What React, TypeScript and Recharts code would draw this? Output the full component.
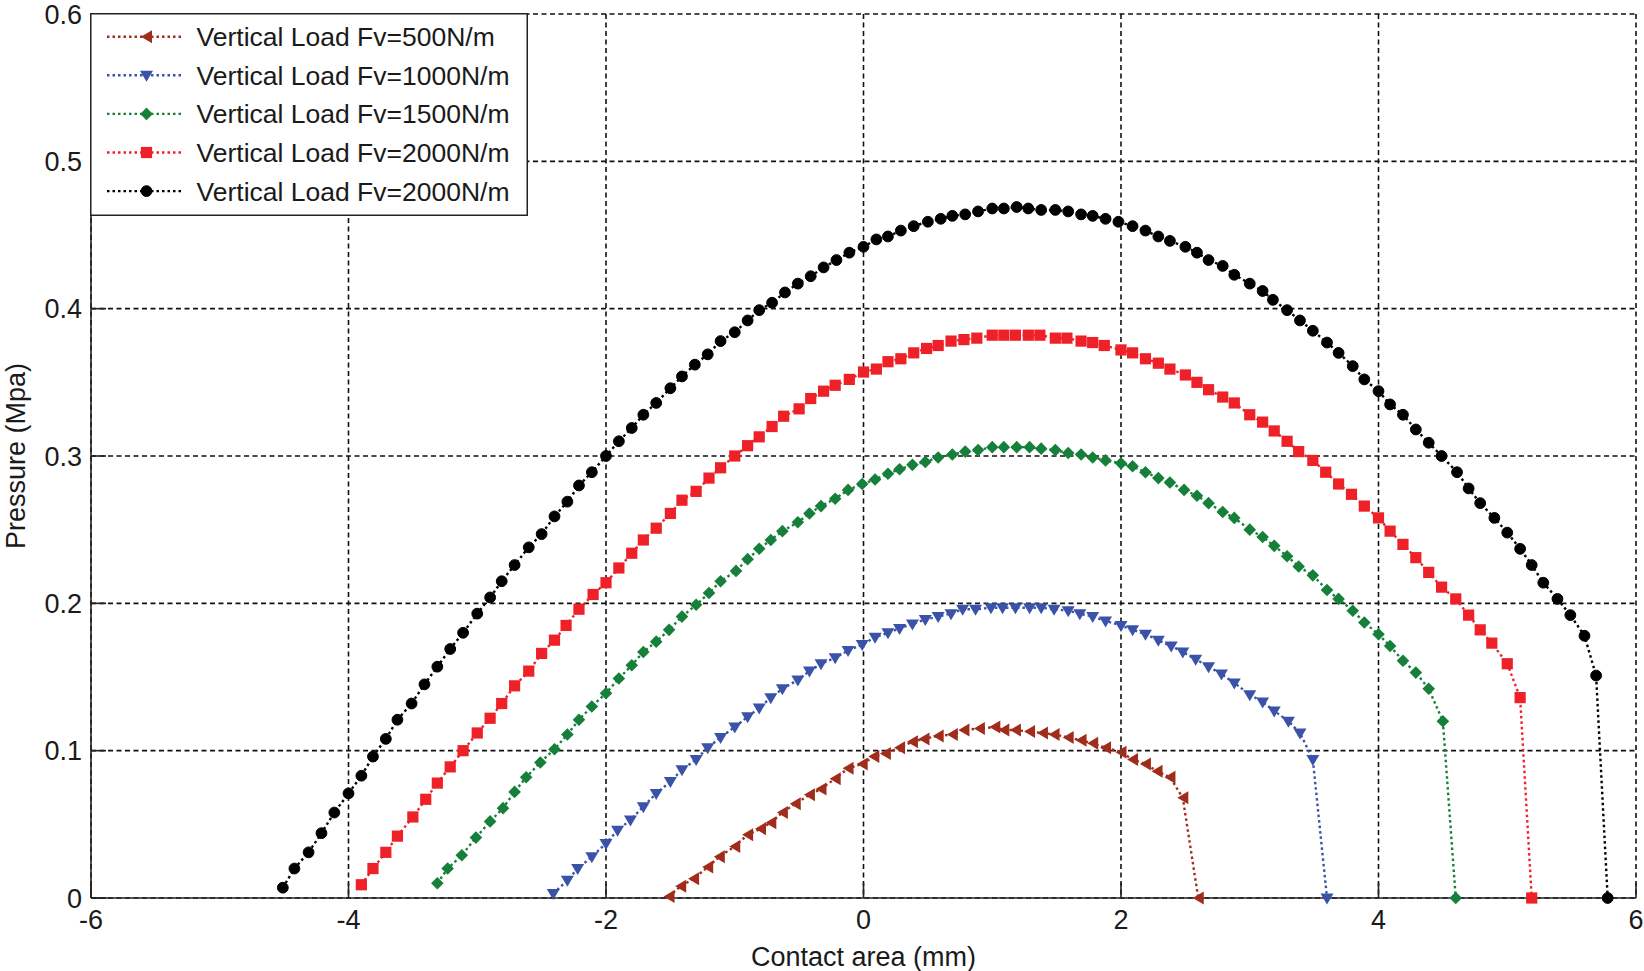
import { CartesianGrid, Label, Line, LineChart, XAxis, YAxis } from "recharts";

// Axis ticks
const xTicks = [-6, -4, -2, 0, 2, 4, 6];
const yTicks = [0, 0.1, 0.2, 0.3, 0.4, 0.5, 0.6];

// Vertical Load Fv=500N/m
const fv500X = [
  -1.51, -1.42, -1.32, -1.21, -1.12, -1.0, -0.9, -0.8, -0.72, -0.63, -0.53, -0.42, -0.33, -0.22,
  -0.12, -0.01, 0.08, 0.17, 0.28, 0.38, 0.47, 0.58, 0.69, 0.78, 0.9, 1.02, 1.09, 1.18, 1.29, 1.39,
  1.48, 1.59, 1.69, 1.78, 1.88, 2.0, 2.09, 2.19, 2.28, 2.38, 2.48, 2.6,
];
const fv500Y = [
  0.001, 0.008, 0.013, 0.021, 0.028, 0.035, 0.043, 0.047, 0.051, 0.058, 0.064, 0.07, 0.074, 0.081,
  0.088, 0.091, 0.096, 0.098, 0.102, 0.106, 0.108, 0.11, 0.111, 0.114, 0.115, 0.116, 0.114, 0.114,
  0.113, 0.112, 0.111, 0.109, 0.107, 0.105, 0.102, 0.099, 0.094, 0.091, 0.086, 0.082, 0.068, 0.0,
];

// Vertical Load Fv=1000N/m
const fv1000X = [
  -2.41, -2.3, -2.22, -2.11, -2.0, -1.91, -1.81, -1.71, -1.61, -1.5, -1.41, -1.3, -1.21, -1.11, -1.0,
  -0.9, -0.81, -0.72, -0.63, -0.51, -0.42, -0.33, -0.22, -0.12, -0.01, 0.09, 0.19, 0.28, 0.38, 0.48,
  0.58, 0.68, 0.77, 0.87, 0.99, 1.08, 1.18, 1.29, 1.38, 1.48, 1.59, 1.68, 1.78, 1.88, 2.0, 2.09, 2.19,
  2.29, 2.39, 2.48, 2.58, 2.68, 2.78, 2.88, 3.0, 3.1, 3.19, 3.3, 3.39, 3.49, 3.6,
];
const fv1000Y = [
  0.003, 0.012, 0.02, 0.028, 0.037, 0.046, 0.053, 0.062, 0.071, 0.079, 0.087, 0.094, 0.102, 0.109,
  0.116, 0.123, 0.129, 0.136, 0.142, 0.148, 0.154, 0.159, 0.163, 0.168, 0.172, 0.177, 0.18, 0.183,
  0.186, 0.189, 0.191, 0.193, 0.196, 0.196, 0.197, 0.197, 0.197, 0.197, 0.197, 0.196, 0.195, 0.193,
  0.191, 0.188, 0.185, 0.182, 0.179, 0.175, 0.171, 0.167, 0.162, 0.157, 0.152, 0.146, 0.138, 0.133,
  0.127, 0.12, 0.112, 0.094, 0.0,
];

// Vertical Load Fv=1500N/m
const fv1500X = [
  -3.31, -3.23, -3.12, -3.01, -2.9, -2.8, -2.71, -2.62, -2.51, -2.4, -2.3, -2.21, -2.11, -2.0, -1.9,
  -1.8, -1.71, -1.61, -1.51, -1.41, -1.3, -1.2, -1.11, -0.99, -0.9, -0.81, -0.72, -0.63, -0.51, -0.42,
  -0.33, -0.22, -0.12, -0.01, 0.09, 0.19, 0.28, 0.38, 0.48, 0.58, 0.69, 0.79, 0.89, 1.0, 1.09, 1.19,
  1.29, 1.38, 1.49, 1.59, 1.69, 1.78, 1.88, 2.0, 2.09, 2.19, 2.29, 2.38, 2.49, 2.59, 2.68, 2.79, 2.88,
  3.0, 3.1, 3.19, 3.29, 3.38, 3.49, 3.6, 3.69, 3.8, 3.89, 4.0, 4.09, 4.19, 4.29, 4.39, 4.5, 4.6,
];
const fv1500Y = [
  0.01, 0.02, 0.029, 0.041, 0.052, 0.061, 0.072, 0.082, 0.092, 0.101, 0.111, 0.121, 0.13, 0.139,
  0.149, 0.158, 0.167, 0.174, 0.182, 0.191, 0.199, 0.207, 0.215, 0.222, 0.23, 0.237, 0.243, 0.249,
  0.255, 0.261, 0.266, 0.271, 0.277, 0.281, 0.284, 0.288, 0.291, 0.294, 0.296, 0.299, 0.301, 0.303,
  0.304, 0.306, 0.306, 0.306, 0.306, 0.305, 0.304, 0.302, 0.301, 0.299, 0.297, 0.295, 0.293, 0.289,
  0.285, 0.282, 0.277, 0.273, 0.268, 0.262, 0.258, 0.25, 0.245, 0.239, 0.232, 0.225, 0.219, 0.209,
  0.203, 0.195, 0.187, 0.179, 0.171, 0.161, 0.153, 0.142, 0.12, 0.0,
];

// Vertical Load Fv=2000N/m (red)
const fv2000aX = [
  -3.9, -3.81, -3.71, -3.62, -3.5, -3.4, -3.31, -3.21, -3.11, -3.0, -2.9, -2.81, -2.71, -2.6, -2.5,
  -2.4, -2.31, -2.21, -2.1, -2.0, -1.9, -1.8, -1.71, -1.61, -1.5, -1.41, -1.3, -1.2, -1.11, -1.0, -0.9,
  -0.81, -0.71, -0.62, -0.5, -0.41, -0.31, -0.22, -0.11, 0.0, 0.1, 0.19, 0.29, 0.39, 0.49, 0.58, 0.68,
  0.78, 0.88, 1.0, 1.09, 1.18, 1.28, 1.37, 1.49, 1.58, 1.69, 1.78, 1.87, 2.0, 2.09, 2.19, 2.29, 2.38,
  2.5, 2.59, 2.68, 2.79, 2.88, 3.0, 3.1, 3.19, 3.29, 3.38, 3.49, 3.59, 3.69, 3.79, 3.89, 4.0, 4.09,
  4.19, 4.29, 4.39, 4.49, 4.6, 4.7, 4.79, 4.88, 5.0, 5.1, 5.19,
];
const fv2000aY = [
  0.009, 0.02, 0.031, 0.042, 0.055, 0.067, 0.078, 0.089, 0.1, 0.112, 0.122, 0.132, 0.144, 0.154,
  0.166, 0.175, 0.185, 0.196, 0.206, 0.214, 0.224, 0.234, 0.243, 0.251, 0.261, 0.27, 0.276, 0.285,
  0.292, 0.3, 0.307, 0.313, 0.32, 0.327, 0.332, 0.339, 0.344, 0.348, 0.352, 0.357, 0.359, 0.364,
  0.366, 0.37, 0.373, 0.375, 0.378, 0.379, 0.38, 0.382, 0.382, 0.382, 0.382, 0.382, 0.38, 0.38,
  0.378, 0.377, 0.375, 0.372, 0.37, 0.366, 0.363, 0.359, 0.355, 0.35, 0.345, 0.34, 0.336, 0.328,
  0.323, 0.317, 0.31, 0.303, 0.297, 0.289, 0.281, 0.274, 0.266, 0.258, 0.249, 0.24, 0.231, 0.221,
  0.211, 0.203, 0.192, 0.182, 0.173, 0.159, 0.136, 0.0,
];

// Vertical Load Fv=2000N/m (black)
const fv2000bX = [
  -4.51, -4.42, -4.31, -4.21, -4.11, -4.0, -3.9, -3.81, -3.71, -3.62, -3.51, -3.41, -3.31, -3.21,
  -3.11, -3.0, -2.9, -2.81, -2.71, -2.6, -2.5, -2.4, -2.3, -2.21, -2.11, -2.0, -1.9, -1.8, -1.71,
  -1.61, -1.5, -1.41, -1.31, -1.21, -1.11, -1.0, -0.9, -0.81, -0.71, -0.61, -0.51, -0.41, -0.31, -0.21,
  -0.11, 0.0, 0.1, 0.19, 0.29, 0.39, 0.5, 0.6, 0.69, 0.79, 0.89, 1.0, 1.09, 1.19, 1.28, 1.38, 1.49,
  1.59, 1.69, 1.78, 1.88, 1.98, 2.09, 2.19, 2.29, 2.38, 2.5, 2.59, 2.68, 2.79, 2.88, 3.0, 3.1, 3.18,
  3.29, 3.39, 3.49, 3.6, 3.69, 3.8, 3.89, 4.0, 4.09, 4.19, 4.29, 4.39, 4.49, 4.61, 4.7, 4.79, 4.9, 5.0,
  5.1, 5.19, 5.28, 5.39, 5.49, 5.6, 5.69, 5.78,
];
const fv2000bY = [
  0.007, 0.02, 0.031, 0.044, 0.058, 0.071, 0.083, 0.096, 0.108, 0.121, 0.132, 0.145, 0.157, 0.169,
  0.18, 0.193, 0.204, 0.215, 0.226, 0.238, 0.247, 0.259, 0.269, 0.28, 0.289, 0.3, 0.31, 0.319, 0.328,
  0.336, 0.346, 0.354, 0.362, 0.369, 0.378, 0.384, 0.392, 0.399, 0.404, 0.411, 0.417, 0.422, 0.428,
  0.433, 0.438, 0.442, 0.447, 0.449, 0.453, 0.456, 0.459, 0.461, 0.463, 0.464, 0.466, 0.468, 0.468,
  0.469, 0.468, 0.467, 0.467, 0.466, 0.464, 0.463, 0.461, 0.459, 0.456, 0.453, 0.449, 0.446, 0.442,
  0.438, 0.433, 0.429, 0.423, 0.417, 0.412, 0.406, 0.399, 0.392, 0.385, 0.377, 0.37, 0.361, 0.352,
  0.344, 0.335, 0.328, 0.318, 0.309, 0.3, 0.289, 0.278, 0.268, 0.258, 0.248, 0.237, 0.226, 0.214,
  0.203, 0.192, 0.178, 0.151, 0.0,
];

type Shape = "left" | "down" | "diamond" | "square" | "circle";

const seriesNames = [
  "Vertical Load Fv=500N/m",
  "Vertical Load Fv=1000N/m",
  "Vertical Load Fv=1500N/m",
  "Vertical Load Fv=2000N/m",
  "Vertical Load Fv=2000N/m",
];
const seriesX = [fv500X, fv1000X, fv1500X, fv2000aX, fv2000bX];
const seriesY = [fv500Y, fv1000Y, fv1500Y, fv2000aY, fv2000bY];
const seriesColors = ["#a02c1c", "#3a52a8", "#16803a", "#ee2129", "#000000"];
const seriesShapes: Shape[] = ["left", "down", "diamond", "square", "circle"];

const series = seriesNames.map((name, i) => ({
  name,
  color: seriesColors[i],
  shape: seriesShapes[i],
  data: seriesX[i].map((x, j) => ({ x, y: seriesY[i][j] })),
}));

const FONT = "'Liberation Sans', Arial, Helvetica, sans-serif";
const AXIS = "#222";

function Marker({ shape, cx, cy, color }: { shape: Shape; cx: number; cy: number; color: string }) {
  switch (shape) {
    case "circle":
      return <circle cx={cx} cy={cy} r={5.4} fill={color} stroke={color} strokeWidth={1} />;
    case "square":
      return <rect x={cx - 5.6} y={cy - 5.6} width={11.2} height={11.2} fill={color} />;
    case "diamond":
      return (
        <path
          d={`M${cx},${cy - 6.3}L${cx + 6.3},${cy}L${cx},${cy + 6.3}L${cx - 6.3},${cy}Z`}
          fill={color}
        />
      );
    case "down":
      return (
        <path d={`M${cx - 6.5},${cy - 4.5}L${cx + 6.5},${cy - 4.5}L${cx},${cy + 6.5}Z`} fill={color} />
      );
    default:
      return (
        <path d={`M${cx - 5.5},${cy}L${cx + 5.5},${cy - 6.5}L${cx + 5.5},${cy + 6.5}Z`} fill={color} />
      );
  }
}

const BottomTick = (props: any) => {
  const { x, y, payload } = props;
  return (
    <g>
      <line x1={x} x2={x} y1={y} y2={y - 15} stroke={AXIS} strokeWidth={1.6} />
      <text x={x} y={y + 31} textAnchor="middle" fontSize={27} fontFamily={FONT} fill="#1a1a1a">
        {payload.value}
      </text>
    </g>
  );
};

const TopTick = (props: any) => {
  const { x, y } = props;
  return <line x1={x} x2={x} y1={y} y2={y + 15} stroke={AXIS} strokeWidth={1.6} />;
};

const LeftTick = (props: any) => {
  const { x, y, payload } = props;
  return (
    <g>
      <line x1={x} x2={x + 15} y1={y} y2={y} stroke={AXIS} strokeWidth={1.6} />
      <text x={x - 9} y={y + 9.5} textAnchor="end" fontSize={27} fontFamily={FONT} fill="#1a1a1a">
        {payload.value}
      </text>
    </g>
  );
};

const RightTick = (props: any) => {
  const { x, y } = props;
  return <line x1={x} x2={x - 15} y1={y} y2={y} stroke={AXIS} strokeWidth={1.6} />;
};

function ChartLegend() {
  const rowH = 38.6;
  return (
    <svg
      width={438}
      height={203}
      style={{ position: "absolute", left: 90, top: 13 }}
    >
      <rect x={0.75} y={0.75} width={436.5} height={201.5} fill="#fff" stroke={AXIS} strokeWidth={1.5} />
      {series.map((s, i) => {
        const cy = 23.7 + i * rowH;
        return (
          <g key={i}>
            <line
              x1={17}
              x2={94}
              y1={cy}
              y2={cy}
              stroke={s.color}
              strokeWidth={2.4}
              strokeDasharray="2.5 3"
            />
            <Marker shape={s.shape} cx={56.5} cy={cy} color={s.color} />
            <text x={106.5} y={cy + 9.5} fontSize={26.5} fontFamily={FONT} fill="#1a1a1a">
              {s.name}
            </text>
          </g>
        );
      })}
    </svg>
  );
}

export default function App() {
  return (
    <div style={{ position: "absolute", left: 0, top: 0, width: 1644, height: 971, background: "#fff" }}>
      <LineChart width={1644} height={971} margin={{ top: 14, right: 8, bottom: 0, left: 0 }}>
        <CartesianGrid stroke="#111" strokeDasharray="5 3.5" strokeWidth={1.6} />
        <XAxis
          dataKey="x"
          type="number"
          domain={[-6, 6]}
          ticks={xTicks}
          interval={0}
          height={73}
          tickSize={0}
          tickMargin={0}
          tickLine={false}
          axisLine={{ stroke: AXIS, strokeWidth: 1.6 }}
          tick={<BottomTick />}
        >
          <Label
            content={() => (
              <text x={863.5} y={966} textAnchor="middle" fontSize={27} fontFamily={FONT} fill="#1a1a1a">
                Contact area (mm)
              </text>
            )}
          />
        </XAxis>
        <XAxis
          xAxisId="top"
          orientation="top"
          type="number"
          domain={[-6, 6]}
          ticks={xTicks}
          interval={0}
          height={0}
          tickSize={0}
          tickMargin={0}
          tickLine={false}
          axisLine={{ stroke: AXIS, strokeWidth: 1.6 }}
          tick={<TopTick />}
        />
        <YAxis
          type="number"
          domain={[0, 0.6]}
          ticks={yTicks}
          interval={0}
          width={91}
          tickSize={0}
          tickMargin={0}
          tickLine={false}
          axisLine={{ stroke: AXIS, strokeWidth: 1.6 }}
          tick={<LeftTick />}
        >
          <Label
            content={() => (
              <text
                x={24.5}
                y={456}
                transform="rotate(-90 24.5 456)"
                textAnchor="middle"
                fontSize={27}
                fontFamily={FONT}
                fill="#1a1a1a"
              >
                Pressure (Mpa)
              </text>
            )}
          />
        </YAxis>
        <YAxis
          yAxisId="right"
          orientation="right"
          type="number"
          domain={[0, 0.6]}
          ticks={yTicks}
          interval={0}
          width={0}
          tickSize={0}
          tickMargin={0}
          tickLine={false}
          axisLine={{ stroke: AXIS, strokeWidth: 1.6 }}
          tick={<RightTick />}
        />
        {series.map((s, i) => (
          <Line
            key={i}
            data={s.data}
            dataKey="y"
            type="linear"
            stroke={s.color}
            strokeWidth={2.4}
            strokeDasharray="2.5 3"
            isAnimationActive={false}
            activeDot={false}
            dot={(p: any) => (
              <Marker key={`${i}-${p.index}`} shape={s.shape} cx={p.cx} cy={p.cy} color={s.color} />
            )}
          />
        ))}
      </LineChart>
      <ChartLegend />
    </div>
  );
}
